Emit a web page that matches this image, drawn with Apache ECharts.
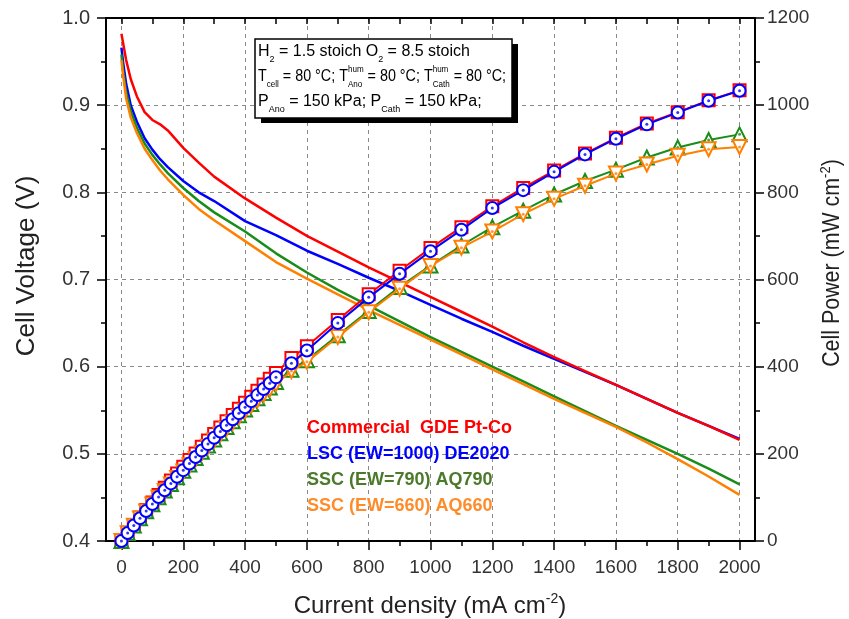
<!DOCTYPE html>
<html><head><meta charset="utf-8">
<script src="https://cdn.jsdelivr.net/npm/echarts@6/dist/echarts.min.js"></script>
<style>html,body{margin:0;padding:0;background:#fff}#c{width:849px;height:619px}</style>
</head><body><div id="c"></div>
<script>
// ---------- data ----------
const seriesNames = ['Commercial  GDE Pt-Co', 'LSC (EW=1000) DE2020', 'SSC (EW=790) AQ790', 'SSC (EW=660) AQ660'];
const lineColors = ['#ff0000', '#0000ff', '#1a8c1a', '#ff8000'];
const legendColors = ['#ff0000', '#0000ff', '#4a7a2a', '#ff8c2a'];

// polarisation curves (cell voltage, V)
const vCurrent = [0, 5, 15, 30, 50, 75, 100, 125, 150, 200, 250, 300, 400, 500, 600, 700, 800, 900, 1000, 1100, 1200, 1300, 1400, 1500, 1600, 1700, 1800, 1900, 2000];
const vRed    = [0.982, 0.972, 0.952, 0.930, 0.910, 0.892, 0.883, 0.878, 0.871, 0.851, 0.834, 0.818, 0.793, 0.771, 0.750, 0.732, 0.714, 0.697, 0.680, 0.663, 0.646, 0.628, 0.611, 0.595, 0.579, 0.563, 0.547, 0.532, 0.516];
const vBlue   = [0.966, 0.950, 0.925, 0.900, 0.881, 0.862, 0.849, 0.838, 0.829, 0.813, 0.800, 0.790, 0.767, 0.751, 0.733, 0.718, 0.702, 0.687, 0.671, 0.655, 0.640, 0.624, 0.609, 0.594, 0.579, 0.563, 0.547, 0.532, 0.517];
const vGreen  = [0.958, 0.940, 0.915, 0.893, 0.874, 0.856, 0.843, 0.832, 0.822, 0.805, 0.790, 0.777, 0.755, 0.730, 0.708, 0.688, 0.670, 0.652, 0.634, 0.617, 0.600, 0.583, 0.566, 0.549, 0.532, 0.516, 0.500, 0.483, 0.465];
const vOrange = [0.952, 0.935, 0.908, 0.886, 0.868, 0.850, 0.837, 0.825, 0.815, 0.797, 0.781, 0.768, 0.744, 0.720, 0.701, 0.683, 0.665, 0.648, 0.631, 0.614, 0.597, 0.580, 0.563, 0.547, 0.531, 0.513, 0.494, 0.474, 0.453];

// power density curves (mW cm-2)
const pCurrent = [0, 20, 40, 60, 80, 100, 120, 140, 160, 180, 200, 220, 240, 260, 280, 300, 320, 340, 360, 380, 400, 420, 440, 460, 480, 500, 550, 600, 700, 800, 900, 1000, 1100, 1200, 1300, 1400, 1500, 1600, 1700, 1800, 1900, 2000];
const pRed    = [0, 18.9, 36.8, 54.1, 71.2, 88.2, 105.4, 122.2, 138.7, 154.6, 170.2, 185.7, 200.9, 216.1, 230.7, 245.4, 260.2, 274.7, 289.1, 303.2, 317.2, 331.0, 345.0, 358.8, 372.0, 385.5, 420, 447, 507, 566, 620, 672, 720, 768, 810, 850, 889, 925, 958, 984, 1011, 1034];
const pBlue   = [0, 18.3, 35.7, 52.4, 68.8, 84.9, 100.8, 116.5, 132.2, 147.4, 162.6, 177.8, 192.7, 207.5, 222.3, 237.0, 251.2, 265.5, 279.4, 293.4, 306.8, 320.9, 334.8, 348.7, 361.9, 375.5, 408, 437, 500, 559, 613, 665, 714, 764, 805, 847, 887, 923, 956, 983, 1010, 1033];
const pGreen  = [0, 18.1, 35.4, 52.0, 68.2, 84.3, 100.1, 115.6, 130.9, 146.0, 161.0, 175.8, 190.3, 204.9, 219.0, 233.1, 247.4, 261.5, 275.0, 288.8, 302.0, 314.6, 327.4, 339.8, 352.3, 365.0, 393, 415, 472, 528, 583, 632, 678, 720, 758, 795, 826, 852, 880, 903, 920, 933];
const pOrange = [0, 18.0, 35.1, 51.7, 67.8, 83.7, 99.2, 114.7, 129.8, 144.7, 159.4, 173.8, 188.2, 202.3, 216.4, 230.4, 244.2, 257.7, 271.1, 284.6, 297.6, 310.4, 323.0, 335.8, 348.0, 360.0, 390, 411, 468, 525, 579, 631, 673, 710, 750, 785, 815, 843, 864, 884, 899, 904];

// axes
const xMajorTicks = [0, 200, 400, 600, 800, 1000, 1200, 1400, 1600, 1800, 2000];
const xMinorTicks = [100, 300, 500, 700, 900, 1100, 1300, 1500, 1700, 1900];
const xTopTicks = [0, 100, 200, 300, 400, 500, 600, 700, 800, 900, 1000, 1100, 1200, 1300, 1400, 1500, 1600, 1700, 1800, 1900, 2000];
const xRange = [-50, 2050];
const vRange = [0.4, 1.0];
const pRange = [0, 1200];

const vSets = [vRed, vBlue, vGreen, vOrange];
const pSets = [pRed, pBlue, pGreen, pOrange];
const symbols = ['rect', 'circle', 'triangle', 'triangle'];
const symbolRot = [0, 0, 0, 180];
const symbolSizes = [12, 12, 14, 14];

// ---------- chart ----------
const FONT = '"Liberation Sans", Arial, sans-serif';
const chart = echarts.init(document.getElementById('c'), null, { renderer: 'canvas' });

const series = [];
[1, 0, 2, 3].forEach(i => {
  series.push({
    name: seriesNames[i], type: 'line', xAxisIndex: 0, yAxisIndex: 0,
    data: vCurrent.map((c, k) => [c, vSets[i][k]]),
    symbol: 'none', showSymbol: false, smooth: false,
    lineStyle: { color: lineColors[i], width: 2.5 }, itemStyle: { color: lineColors[i] },
    z: 3, silent: true
  });
});
[0, 2, 3, 1].forEach((i, n) => {
  series.push({
    name: seriesNames[i], type: 'line', xAxisIndex: 0, yAxisIndex: 1,
    data: pCurrent.map((c, k) => [c, pSets[i][k]]),
    symbol: symbols[i], symbolSize: symbolSizes[i], symbolRotate: symbolRot[i], showAllSymbol: true,
    lineStyle: { color: lineColors[i], width: 2 },
    itemStyle: { color: '#ffffff', borderColor: lineColors[i], borderWidth: 2 },
    z: 4 + n * 2, silent: true
  });
  series.push({
    name: seriesNames[i], type: 'scatter', xAxisIndex: 0, yAxisIndex: 1,
    data: pCurrent.map((c, k) => [c, pSets[i][k]]),
    symbol: 'circle', symbolSize: 3,
    itemStyle: { color: lineColors[i] },
    z: 5 + n * 2, silent: true
  });
});

// ---------- annotation box ----------
const mctx = document.createElement('canvas').getContext('2d');
function tw(t, size) { mctx.font = size + 'px ' + FONT; return mctx.measureText(t).width; }
const MAIN = 16, SCRIPT = 9;
const annLines = [
  [['H'], ['2', 'sub'], [' = 1.5 stoich O'], ['2', 'sub'], [' = 8.5 stoich']],
  [['T'], ['cell', 'sub'], [' = 80 \u00b0C; T'], ['hum', 'stack', 'Ano'], [' = 80 \u00b0C; T'], ['hum', 'stack', 'Cath'], [' = 80 \u00b0C;']],
  [['P'], ['Ano', 'sub'], [' = 150 kPa; P'], ['Cath', 'sub'], [' = 150 kPa;']]
];
const annBaselines = [57, 82, 107];
const annLineEnds = [null, 506, null];
const annX0 = 258;
function txt(x, baseline, s, size) {
  return { type: 'text', x: x, y: baseline - 0.3465 * size, z: 12,
    style: { text: s, fill: '#000', font: size + 'px ' + FONT, align: 'left', verticalAlign: 'middle' } };
}
const annGroups = annLines.map((line, li) => {
  let x = 0; const b = annBaselines[li]; const els = [];
  line.forEach(tok => {
    if (!tok[1]) { els.push(txt(x, b, tok[0], MAIN)); x += tw(tok[0], MAIN); }
    else if (tok[1] === 'sub') { els.push(txt(x, b + 5.5, tok[0], SCRIPT)); x += tw(tok[0], SCRIPT); }
    else { els.push(txt(x, b - 9, tok[0], SCRIPT)); els.push(txt(x, b + 5.5, tok[2], SCRIPT));
      x += Math.max(tw(tok[0], SCRIPT), tw(tok[2], SCRIPT)); }
  });
  const sx = annLineEnds[li] ? (annLineEnds[li] - annX0) / x : 1;
  return { type: 'group', x: annX0, y: 0, scaleX: sx, z: 12, children: els };
});

const graphic = [
  { type: 'rect', shape: { x: 261, y: 44, width: 257, height: 79 }, style: { fill: '#000' }, z: 10 },
  { type: 'rect', shape: { x: 255, y: 39, width: 257, height: 79 }, style: { fill: '#fff', stroke: '#000', lineWidth: 1.5 }, z: 11 },
  ...annGroups,
  { type: 'text', x: 27, y: 266, rotation: Math.PI / 2, z: 12,
    style: { text: 'Cell Voltage (V)', font: '26px ' + FONT, fill: '#222', align: 'center', verticalAlign: 'middle' } },
  { type: 'text', x: 833, y: 263, rotation: Math.PI / 2, scaleX: 0.93, z: 12,
    style: { text: '{a|Cell Power (mW cm}{s|-2}{a|)}', align: 'center', verticalAlign: 'middle',
      rich: { a: { fontSize: 23, fontFamily: FONT, fill: '#222', lineHeight: 28 }, s: { fontSize: 14, fontFamily: FONT, fill: '#222', verticalAlign: 'top', lineHeight: 14 } } } },
  { type: 'text', x: 430, y: 606, z: 12,
    style: { text: '{a|Current density (mA cm}{s|-2}{a|)}', align: 'center', verticalAlign: 'middle',
      rich: { a: { fontSize: 24, fontFamily: FONT, fill: '#222', lineHeight: 28 }, s: { fontSize: 14, fontFamily: FONT, fill: '#222', verticalAlign: 'top', lineHeight: 14 } } } }
];

const axisLine = { show: true, onZero: false, lineStyle: { color: '#000', width: 2 } };
const option = {
  animation: false,
  backgroundColor: '#ffffff',
  textStyle: { fontFamily: FONT },
  grid: { left: 106, right: 94, top: 18, bottom: 78, containLabel: false },
  legend: {
    orient: 'vertical', left: 297, top: 414, itemWidth: 0, itemHeight: 0, itemGap: 8, icon: 'rect',
    selectedMode: false,
    data: seriesNames.map((n, i) => ({ name: n, textStyle: { color: legendColors[i] } })),
    textStyle: { fontSize: 18, fontWeight: 'bold', fontFamily: FONT, lineHeight: 18 }
  },
  xAxis: [
    { type: 'value', min: xRange[0], max: xRange[1], position: 'bottom',
      axisLine: axisLine,
      axisTick: { show: true, inside: false, length: 9, customValues: xMajorTicks, lineStyle: { color: '#000', width: 1.5 } },
      axisLabel: { show: true, customValues: xMajorTicks, fontSize: 19, color: '#333', margin: 17, fontFamily: FONT, formatter: v => String(v) },
      splitLine: { show: true, lineStyle: { color: '#8a8a8a', width: 1, type: [4, 4] } } },
    { type: 'value', min: xRange[0], max: xRange[1], position: 'bottom', offset: 0,
      axisLine: { show: false },
      axisTick: { show: true, inside: false, length: 5, customValues: xMinorTicks, lineStyle: { color: '#000', width: 1.5 } },
      axisLabel: { show: false }, splitLine: { show: false } },
    { type: 'value', min: xRange[0], max: xRange[1], position: 'top', offset: 0,
      axisLine: axisLine,
      axisTick: { show: true, inside: true, length: 6, customValues: xTopTicks, lineStyle: { color: '#000', width: 1.5 } },
      axisLabel: { show: false }, splitLine: { show: false } }
  ],
  yAxis: [
    { type: 'value', min: vRange[0], max: vRange[1], interval: 0.1, position: 'left',
      axisLine: axisLine,
      axisTick: { show: true, inside: false, length: 9, lineStyle: { color: '#000', width: 1.5 } },
      minorTick: { show: true, splitNumber: 2, length: 5, lineStyle: { color: '#000', width: 1.5 } },
      axisLabel: { fontSize: 20, color: '#333', margin: 16, fontFamily: FONT, formatter: v => v.toFixed(1) },
      splitLine: { show: true, lineStyle: { color: '#8a8a8a', width: 1, type: [4, 4] } } },
    { type: 'value', min: pRange[0], max: pRange[1], interval: 200, position: 'right',
      axisLine: axisLine,
      axisTick: { show: true, inside: false, length: 9, lineStyle: { color: '#000', width: 1.5 } },
      minorTick: { show: true, splitNumber: 2, length: 5, lineStyle: { color: '#000', width: 1.5 } },
      axisLabel: { fontSize: 19, color: '#333', margin: 12, fontFamily: FONT, formatter: v => String(v) },
      splitLine: { show: false } }
  ],
  series: series,
  graphic: graphic
};
chart.setOption(option);
</script>
</body></html>
